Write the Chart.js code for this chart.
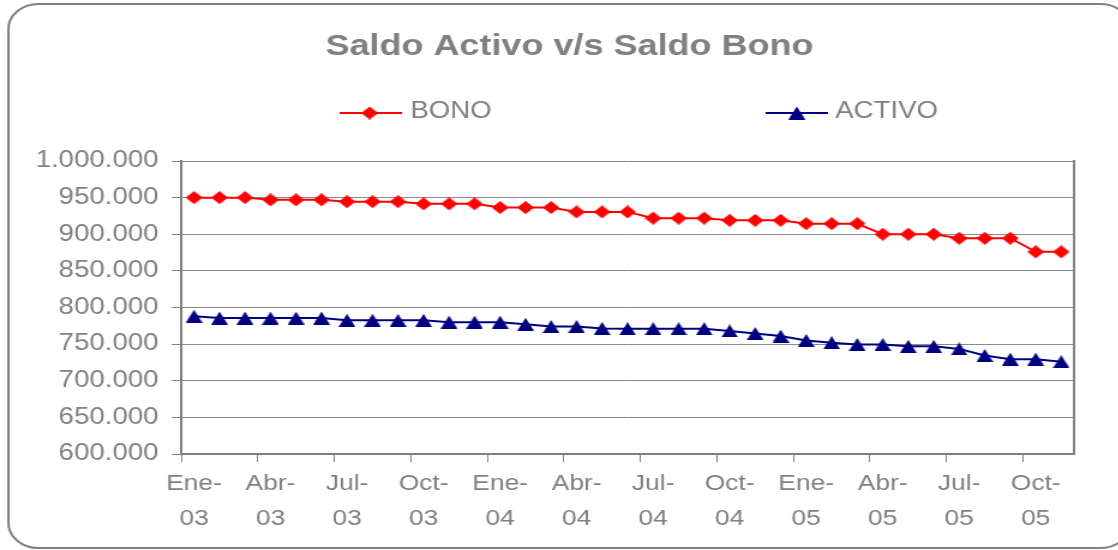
<!DOCTYPE html>
<html>
<head>
<meta charset="utf-8">
<script src="https://cdn.jsdelivr.net/npm/chart.js@4.4.0/dist/chart.umd.min.js"></script>
<style>
html, body { margin:0; padding:0; background:#fff; overflow:hidden; }
#wrap { width:932px; height:550px; transform:scaleX(1.2); transform-origin:0 0; }
</style>
</head>
<body>
<div id="wrap"><canvas id="grafico" width="932" height="550"></canvas></div>
<script>
var meses = ['Ene-03','Feb-03','Mar-03','Abr-03','May-03','Jun-03','Jul-03','Ago-03','Sep-03','Oct-03','Nov-03','Dic-03',
             'Ene-04','Feb-04','Mar-04','Abr-04','May-04','Jun-04','Jul-04','Ago-04','Sep-04','Oct-04','Nov-04','Dic-04',
             'Ene-05','Feb-05','Mar-05','Abr-05','May-05','Jun-05','Jul-05','Ago-05','Sep-05','Oct-05','Nov-05'];
var bono = [950000,950000,950000,947000,947000,947000,944500,944500,944500,941500,941500,941500,
            936500,936500,936500,930500,930500,930500,922000,922000,922000,919000,919000,919000,
            914500,914500,914500,900000,900000,900000,894500,894500,894500,876000,876000];
var activo = [788000,785500,785500,785500,785500,785500,782500,782500,782500,782500,780000,780000,
              780000,777000,774000,774000,771500,771000,771000,771000,771000,768000,764500,761000,
              755000,752000,749500,749500,747000,747000,743500,734500,729500,729500,726000];
var ejeY = [600000, 1000000, 50000];   // min, max, paso

var gris = '#808080';
Chart.defaults.font.family = "'Liberation Sans', Arial, sans-serif";
Chart.defaults.color = gris;

function diamante(w, h, color) {
    var c = document.createElement('canvas');
    c.width = w; c.height = h;
    var g = c.getContext('2d');
    g.fillStyle = color;
    g.beginPath();
    g.moveTo(w / 2, 0); g.lineTo(w, h / 2); g.lineTo(w / 2, h); g.lineTo(0, h / 2);
    g.closePath(); g.fill();
    return c;
}
function triangulo(w, h, color) {
    var c = document.createElement('canvas');
    c.width = w; c.height = h;
    var g = c.getContext('2d');
    g.fillStyle = color;
    g.beginPath();
    g.moveTo(w / 2, 0); g.lineTo(w, h); g.lineTo(0, h);
    g.closePath(); g.fill();
    return c;
}

function miles(v) {
    return String(v).replace(/\B(?=(\d{3})+(?!\d))/g, '.');
}

// marco redondeado y leyenda propia (linea + marcador + texto)
var marco = {
    id: 'marco',
    beforeDraw: function (chart) {
        var ctx = chart.ctx;
        var x = 7, y = 4, w = 935, h = 544, r = 25;
        ctx.save();
        ctx.fillStyle = '#fff';
        ctx.fillRect(0, 0, chart.width, chart.height);
        ctx.strokeStyle = gris;
        ctx.lineWidth = 2;
        ctx.beginPath();
        ctx.moveTo(x + r, y);
        ctx.lineTo(x + w - r, y);
        ctx.arcTo(x + w, y, x + w, y + r, r);
        ctx.lineTo(x + w, y + h - r);
        ctx.arcTo(x + w, y + h, x + w - r, y + h, r);
        ctx.lineTo(x + r, y + h);
        ctx.arcTo(x, y + h, x, y + h - r, r);
        ctx.lineTo(x, y + r);
        ctx.arcTo(x, y, x + r, y, r);
        ctx.stroke();
        ctx.restore();
    },
    afterDraw: function (chart) {
        var ctx = chart.ctx;
        var pos = [[283, 335, 308, 342], [638, 690, 664, 696]];
        ctx.save();
        chart.data.datasets.forEach(function (ds, i) {
            var p = pos[i];
            ctx.strokeStyle = ds.borderColor;
            ctx.lineWidth = 2;
            ctx.beginPath();
            ctx.moveTo(p[0], 113);
            ctx.lineTo(p[1], 113);
            ctx.stroke();
            var m = ds.pointStyle;
            ctx.drawImage(m, p[2] - m.width / 2, 113 - m.height / 2);
            ctx.fillStyle = gris;
            ctx.font = "23px 'Liberation Sans', Arial, sans-serif";
            ctx.textBaseline = 'alphabetic';
            ctx.fillText(ds.label, p[3], 118);
        });
        ctx.restore();
    }
};

var ctx = document.getElementById('grafico');
var chart = new Chart(ctx, {
    type: 'line',
    data: {
        labels: meses,
        datasets: [{
            label: 'BONO',
            data: bono,
            borderColor: '#FF0000',
            backgroundColor: '#FF0000',
            borderWidth: 2,
            pointStyle: diamante(14, 13, '#FF0000'),
            tension: 0
        }, {
            label: 'ACTIVO',
            data: activo,
            borderColor: '#000080',
            backgroundColor: '#000080',
            borderWidth: 2,
            pointStyle: triangulo(14, 13, '#000080'),
            tension: 0
        }]
    },
    options: {
        responsive: false,
        devicePixelRatio: 1,
        animation: false,
        events: [],
        layout: { padding: { left: 17, right: 0, top: 0, bottom: 0 } },
        plugins: {
            legend: { display: false },
            tooltip: { enabled: false },
            title: {
                display: true,
                text: 'Saldo Activo v/s Saldo Bono',
                color: gris,
                font: { size: 30, weight: 'bold' },
                padding: { top: 29, bottom: 96 }
            }
        },
        scales: {
            x: {
                offset: true,
                grid: {
                    offset: true,
                    drawOnChartArea: false,
                    tickLength: 8,
                    tickColor: function (c) { return c.index % 3 === 0 ? gris : 'rgba(0,0,0,0)'; }
                },
                border: { color: gris, width: 2 },
                ticks: {
                    autoSkip: false,
                    maxRotation: 0,
                    padding: 4,
                    color: gris,
                    font: { size: 22, lineHeight: 1.59 },
                    callback: function (v, i) {
                        if (i % 3 !== 0) return '';
                        var p = meses[i].split('-');
                        return [p[0] + '-', p[1]];
                    }
                },
                afterFit: function (s) { s.height = 96; }
            },
            y: {
                min: ejeY[0],
                max: ejeY[1],
                grid: { color: '#8a8a8a', lineWidth: 1, tickLength: 8, tickColor: gris },
                border: { color: gris, width: 2 },
                ticks: {
                    stepSize: ejeY[2],
                    padding: 11,
                    color: gris,
                    font: { size: 23 },
                    callback: function (v) { return miles(v); }
                },
                afterFit: function (s) { s.width = 134; }
            },
            derecha: {
                type: 'linear',
                position: 'right',
                grid: { display: false },
                ticks: { display: false },
                border: { color: gris, width: 2 },
                afterFit: function (s) { s.width = 37; }
            }
        }
    },
    plugins: [marco]
});
</script>
</body>
</html>
